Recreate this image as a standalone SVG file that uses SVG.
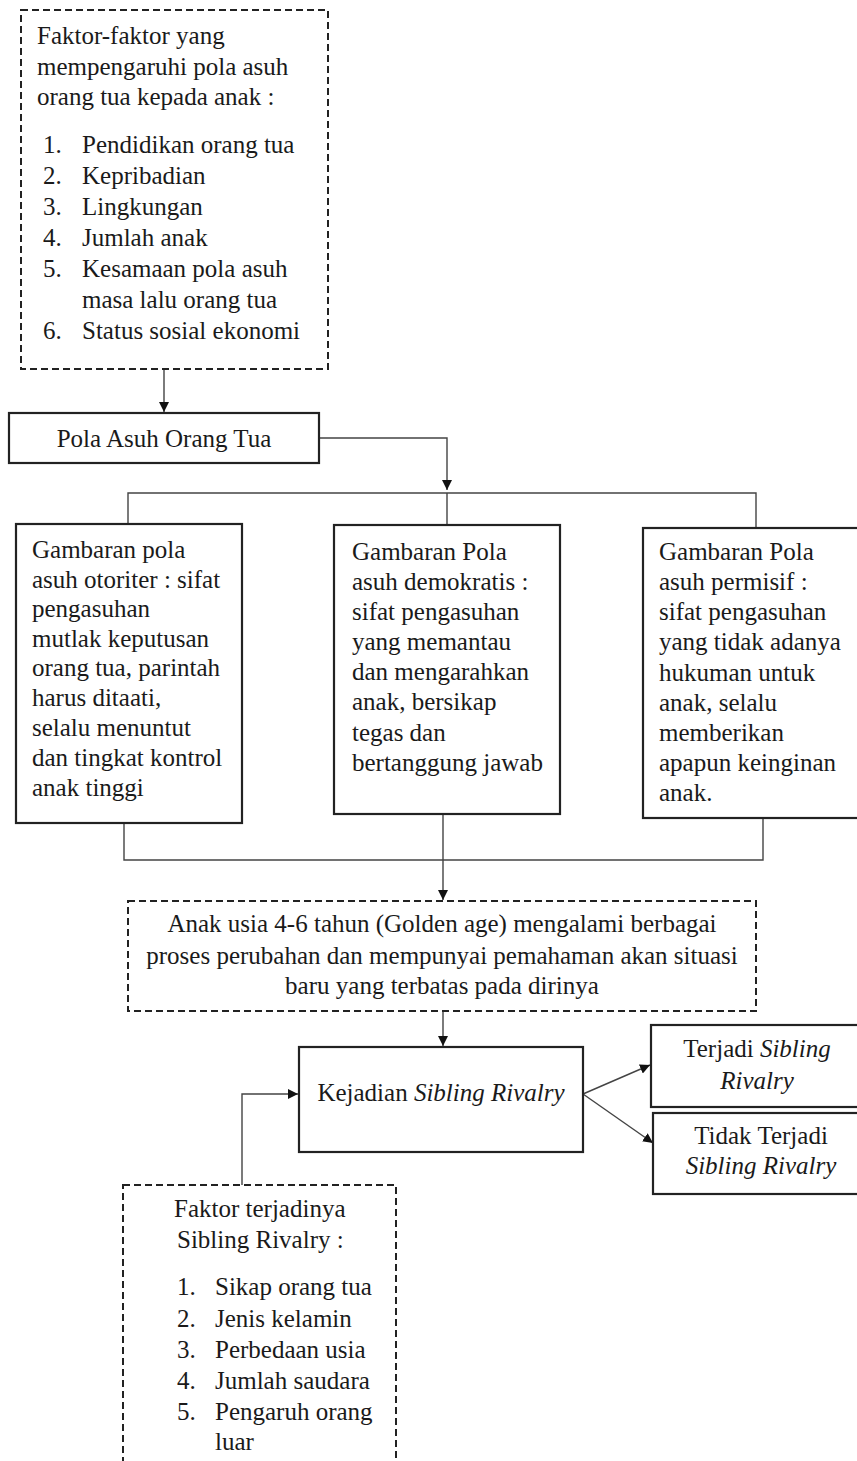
<svg xmlns="http://www.w3.org/2000/svg" width="857" height="1461" viewBox="0 0 857 1461">
<defs>
<marker id="arr" viewBox="0 0 10 10" refX="10" refY="5" markerWidth="10" markerHeight="10" markerUnits="userSpaceOnUse" orient="auto">
<path d="M0,0 L10,5 L0,10 Z" fill="#111"/>
</marker>
<style>
text{font-family:"Liberation Serif","Times New Roman",serif;font-size:25px;fill:#1a1a1a}
.box{fill:#fff;stroke:#222;stroke-width:2.2}
.dash{fill:#fff;stroke:#222;stroke-width:2;stroke-dasharray:7,4}
.con{fill:none;stroke:#444;stroke-width:1.4}
.mid{text-anchor:middle}
.it{font-style:italic}
</style>
</defs>
<rect width="857" height="1461" fill="#fff"/>

<g id="connectors">
<path class="con" d="M164,369 V412" marker-end="url(#arr)"/>
<path class="con" d="M319,438 H447 V490" marker-end="url(#arr)"/>
<path class="con" d="M128,524 V493 H756 V528"/>
<path class="con" d="M447,493 V525"/>
<path class="con" d="M124,823 V860 H763 V818"/>
<path class="con" d="M443,814 V900" marker-end="url(#arr)"/>
<path class="con" d="M443,1011 V1046" marker-end="url(#arr)"/>
<path class="con" d="M242,1185 V1094 H298" marker-end="url(#arr)"/>
<path class="con" d="M583,1094 L650,1065" marker-end="url(#arr)"/>
<path class="con" d="M583,1094 L653,1143" marker-end="url(#arr)"/>
</g>

<g id="faktor-pola-asuh">
<rect class="dash" x="21" y="10" width="307" height="359"/>
<text x="37" y="44">Faktor-faktor yang</text>
<text x="37" y="75">mempengaruhi pola asuh</text>
<text x="37" y="105">orang tua kepada anak :</text>
<text x="43" y="153">1.</text><text x="82" y="153">Pendidikan orang tua</text>
<text x="43" y="184">2.</text><text x="82" y="184">Kepribadian</text>
<text x="43" y="215">3.</text><text x="82" y="215">Lingkungan</text>
<text x="43" y="246">4.</text><text x="82" y="246">Jumlah anak</text>
<text x="43" y="277">5.</text><text x="82" y="277">Kesamaan pola asuh</text>
<text x="82" y="308">masa lalu orang tua</text>
<text x="43" y="339">6.</text><text x="82" y="339">Status sosial ekonomi</text>
</g>

<g id="pola-asuh">
<rect class="box" x="9" y="413" width="310" height="50"/>
<text class="mid" x="164" y="447">Pola Asuh Orang Tua</text>
</g>

<g id="otoriter">
<rect class="box" x="16" y="524" width="226" height="299"/>
<text x="32" y="558">Gambaran pola</text>
<text x="32" y="588">asuh otoriter : sifat</text>
<text x="32" y="617">pengasuhan</text>
<text x="32" y="647">mutlak keputusan</text>
<text x="32" y="676">orang tua, parintah</text>
<text x="32" y="706">harus ditaati,</text>
<text x="32" y="736">selalu menuntut</text>
<text x="32" y="766">dan tingkat kontrol</text>
<text x="32" y="796">anak tinggi</text>
</g>

<g id="demokratis">
<rect class="box" x="334" y="525" width="226" height="289"/>
<text x="352" y="560">Gambaran Pola</text>
<text x="352" y="590">asuh demokratis :</text>
<text x="352" y="620">sifat pengasuhan</text>
<text x="352" y="650">yang memantau</text>
<text x="352" y="680">dan mengarahkan</text>
<text x="352" y="710">anak, bersikap</text>
<text x="352" y="741">tegas dan</text>
<text x="352" y="771">bertanggung jawab</text>
</g>

<g id="permisif">
<rect class="box" x="643" y="528" width="217" height="290"/>
<text x="659" y="560">Gambaran Pola</text>
<text x="659" y="590">asuh permisif :</text>
<text x="659" y="620">sifat pengasuhan</text>
<text x="659" y="650">yang tidak adanya</text>
<text x="659" y="681">hukuman untuk</text>
<text x="659" y="711">anak, selalu</text>
<text x="659" y="741">memberikan</text>
<text x="659" y="771">apapun keinginan</text>
<text x="659" y="801">anak.</text>
</g>

<g id="golden-age">
<rect class="dash" x="128" y="901" width="628" height="110"/>
<text class="mid" x="442" y="932">Anak usia 4-6 tahun (Golden age) mengalami berbagai</text>
<text class="mid" x="442" y="964">proses perubahan dan mempunyai pemahaman akan situasi</text>
<text class="mid" x="442" y="994">baru yang terbatas pada dirinya</text>
</g>

<g id="kejadian">
<rect class="box" x="299" y="1047" width="284" height="105"/>
<text class="mid" x="441" y="1101">Kejadian <tspan class="it">Sibling Rivalry</tspan></text>
</g>

<g id="terjadi">
<rect class="box" x="651" y="1025" width="209" height="82"/>
<text class="mid" x="757" y="1057">Terjadi <tspan class="it">Sibling</tspan></text>
<text class="mid it" x="757" y="1089">Rivalry</text>
</g>

<g id="tidak-terjadi">
<rect class="box" x="653" y="1113" width="207" height="81"/>
<text class="mid" x="761" y="1144">Tidak Terjadi</text>
<text class="mid it" x="761" y="1174">Sibling Rivalry</text>
</g>

<g id="faktor-sibling">
<rect class="dash" x="123" y="1185" width="273" height="290"/>
<text x="174" y="1217">Faktor terjadinya</text>
<text x="177" y="1248">Sibling Rivalry :</text>
<text x="177" y="1295">1.</text><text x="215" y="1295">Sikap orang tua</text>
<text x="177" y="1327">2.</text><text x="215" y="1327">Jenis kelamin</text>
<text x="177" y="1358">3.</text><text x="215" y="1358">Perbedaan usia</text>
<text x="177" y="1389">4.</text><text x="215" y="1389">Jumlah saudara</text>
<text x="177" y="1420">5.</text><text x="215" y="1420">Pengaruh orang</text>
<text x="215" y="1450">luar</text>
</g>
</svg>
